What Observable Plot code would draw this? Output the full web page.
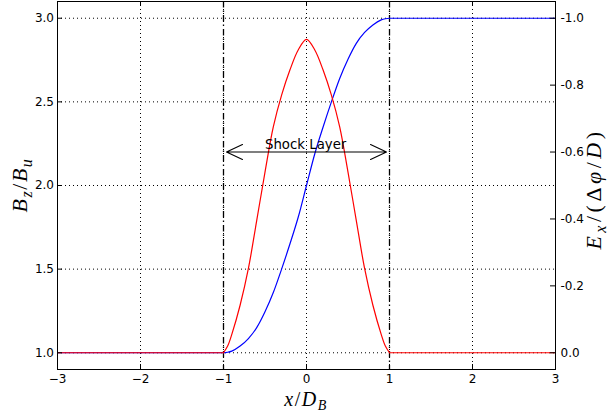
<!DOCTYPE html>
<html>
<head>
<meta charset="utf-8">
<script src="https://cdn.jsdelivr.net/npm/d3@7"></script>
<script src="https://cdn.jsdelivr.net/npm/@observablehq/plot@0.6"></script>
<style>
  body { margin: 0; background: #fff; }
  #chart svg { display: block; }
</style>
</head>
<body>
<div id="chart"></div>
<script>
// ---------- data ----------
const xTicks = [-3, -2, -1, 0, 1, 2, 3];
const xGrid = [-2, -1, 0, 1, 2];
const bTicks = [1.0, 1.5, 2.0, 2.5, 3.0];          // left axis  (B_z/B_u)
const eTicks = [0.0, -0.2, -0.4, -0.6, -0.8, -1.0]; // right axis (E_x/(Δφ/D))
const shockEdges = [-1, 1];
const shockLabel = "Shock Layer";
const shockArrowB = 2.2;   // height of the double arrow, left-axis units
const shockTextX = -0.5;   // left end of the label

const xs = [-3, -1, -0.95, -0.9, -0.8, -0.7, -0.6, -0.5, -0.4, -0.3, -0.2, -0.1, 0,
            0.1, 0.2, 0.3, 0.4, 0.5, 0.6, 0.7, 0.8, 0.9, 0.95, 1, 3];
const bz = [1, 1, 1.003, 1.01, 1.04, 1.085, 1.15, 1.245, 1.36, 1.50, 1.65, 1.81, 2.0,
            2.19, 2.35, 2.50, 2.64, 2.755, 2.85, 2.915, 2.96, 2.99, 2.997, 3, 3];
const ex = [0, 0, -0.02, -0.055, -0.142, -0.252, -0.395, -0.54, -0.675, -0.77, -0.845, -0.905, -0.937,
            -0.905, -0.845, -0.77, -0.675, -0.54, -0.395, -0.252, -0.142, -0.055, -0.02, 0, 0];

// ---------- layout ----------
const W = 608, H = 414;
const mL = 57, mR = 53, mT = 1, mB = 45;
const innerW = W - mL - mR, innerH = H - mT - mB;

// twin axis: E = 0 sits on B = 1, E = -1 sits on B = 3
const eToB = e => 1 - 2 * e;
const eFmt = e => (e < -1e-9 ? "-" : "") + Math.abs(e).toFixed(1);

const [xa, xb] = d3.extent(shockEdges);
const bzData = xs.map((x, i) => ({x, v: bz[i]}));
// E curve split into outside / inside / outside pieces (shared end points)
const exData = [];
xs.forEach((x, i) => {
  const v = eToB(ex[i]);
  if (x <= xa) exData.push({x, v, seg: 0});
  if (x >= xa && x <= xb) exData.push({x, v, seg: 1});
  if (x >= xb) exData.push({x, v, seg: 2});
});
const mid = d3.mean(shockEdges);
const arrows = shockEdges.map(e => ({x1: mid, x2: e, y: shockArrowB}));

const plot = Plot.plot({
  width: W, height: H,
  marginLeft: mL, marginRight: mR, marginTop: mT, marginBottom: mB,
  style: {fontFamily: "'DejaVu Sans', sans-serif", fontSize: "12px", color: "#000", background: "#fff"},
  x: {domain: [-3, 3], label: null},
  y: {domain: [0.9, 3.1], label: null},
  marks: [
    // dotted grid
    Plot.ruleX(xGrid, {x: d => d, stroke: "#000", strokeWidth: 1, strokeDasharray: "1,3"}),
    Plot.ruleY(bTicks, {y: d => d, stroke: "#000", strokeWidth: 1, strokeDasharray: "1,3"}),
    // shock layer boundaries (dash-dot)
    Plot.ruleX(shockEdges, {x: d => d, stroke: "#000", strokeWidth: 1.3, strokeDasharray: "6.5,3,1.5,3"}),
    // curves
    Plot.line(bzData, {x: "x", y: "v", stroke: "#0000ff", strokeWidth: 1.2, curve: "monotone-x"}),
    Plot.line(exData, {x: "x", y: "v", z: "seg", stroke: "#ff0000", strokeWidth: 1.2, curve: "catmull-rom"}),
    // shock layer annotation
    Plot.arrow(arrows, {x1: "x1", x2: "x2", y1: "y", y2: "y", stroke: "#000", strokeWidth: 1.1,
      headLength: 24, headAngle: 50, insetEnd: 3}),
    Plot.text([shockLabel], {x: () => shockTextX, y: () => shockArrowB, text: d => d,
      textAnchor: "start", lineAnchor: "bottom", dy: -3, fontSize: 13.3, fill: "#000"}),
    // frame
    Plot.frame({stroke: "#000", strokeWidth: 1}),
    // inward ticks
    Plot.tickX(xTicks, {x: d => d, stroke: "#000", insetTop: innerH - 5}),
    Plot.tickX(xTicks, {x: d => d, stroke: "#000", insetBottom: innerH - 5}),
    Plot.tickY(bTicks, {y: d => d, stroke: "#000", insetRight: innerW - 5}),
    Plot.tickY(eTicks.map(eToB), {y: d => d, stroke: "#000", insetLeft: innerW - 5}),
    // tick labels
    Plot.axisX({ticks: xTicks, tickSize: 0, tickPadding: 5, label: null, tickFormat: d3.format("d")}),
    Plot.axisY({ticks: bTicks, anchor: "left", tickSize: 0, tickPadding: 3.5, label: null, tickFormat: d3.format(".1f")}),
    Plot.axisY({ticks: eTicks.map(eToB), anchor: "right", tickSize: 0, tickPadding: 5, label: null,
      tickFormat: d => eFmt(eTicks.find(e => Math.abs(eToB(e) - d) < 1e-9))})
  ]
});

document.getElementById("chart").appendChild(plot);

// ---------- math-style axis titles ----------
const svg = d3.select(plot);
function mathLabel(parts, transform, size, spacing) {
  const t = svg.append("text")
    .attr("transform", transform)
    .attr("text-anchor", "middle")
    .attr("font-family", "'Liberation Serif', 'DejaVu Serif', serif")
    .attr("font-size", size)
    .attr("letter-spacing", spacing)
    .attr("fill", "#000");
  let shifted = 0;
  for (const p of parts) {
    const s = t.append("tspan").text(p.t);
    if (p.it) s.attr("font-style", "italic");
    const want = p.sub ? Math.round(size * 0.22) : 0;
    if (want !== shifted) { s.attr("dy", want - shifted); shifted = want; }
    if (p.sub) s.attr("font-size", Math.round(size * 0.72));
  }
  return t;
}
mathLabel([{t: "x", it: 1}, {t: "/"}, {t: "D", it: 1}, {t: "B", it: 1, sub: 1}],
  `translate(${mL + innerW / 2},406)`, 20, 1.5);
mathLabel([{t: "B", it: 1}, {t: "z", it: 1, sub: 1}, {t: "/"}, {t: "B", it: 1}, {t: "u", it: 1, sub: 1}],
  `translate(27,${mT + innerH / 2}) rotate(-90)`, 22, 1.5);
mathLabel([{t: "E", it: 1}, {t: "x", it: 1, sub: 1}, {t: "/(Δ"}, {t: "φ", it: 1}, {t: "/"}, {t: "D", it: 1}, {t: ")"}],
  `translate(601,${mT + innerH / 2 + 4}) rotate(-90)`, 22, 3.5);
</script>
</body>
</html>
